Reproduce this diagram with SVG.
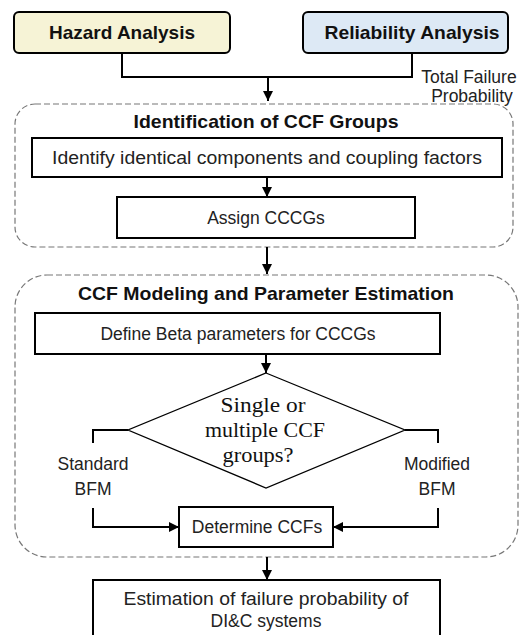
<svg xmlns="http://www.w3.org/2000/svg" width="526" height="635" viewBox="0 0 526 635">
<defs>
<marker id="ah" viewBox="0 0 10 10" refX="10" refY="5" markerWidth="10" markerHeight="10" markerUnits="userSpaceOnUse" orient="auto">
<path d="M0,0 L10,5 L0,10 Z" fill="#000"/>
</marker>
<style>
.box{fill:#fff;stroke:#000;stroke-width:2}
.grp{fill:none;stroke:#777;stroke-width:1.2;stroke-dasharray:6,3}
.t{font-family:"Liberation Sans",Arial,sans-serif;font-size:17.5px;fill:#222;text-anchor:middle}
.b{font-family:"Liberation Sans",Arial,sans-serif;font-size:19px;font-weight:bold;fill:#111;text-anchor:middle}
.s{font-family:"Liberation Serif","Times New Roman",serif;font-size:22px;fill:#111;text-anchor:middle}
.c{fill:none;stroke:#000;stroke-width:2}
.a{fill:none;stroke:#000;stroke-width:2;marker-end:url(#ah)}
.d{fill:#fff;stroke:#000;stroke-width:1.3}
</style>
</defs>
<g id="grp1"><rect class="grp" x="15" y="104" width="498" height="143" rx="20"/><text class="b" x="266" y="128" textLength="265" lengthAdjust="spacingAndGlyphs">Identification of CCF Groups</text></g>
<g id="grp2"><rect class="grp" x="15" y="275" width="503" height="282" rx="32"/><text class="b" x="266" y="300" textLength="376" lengthAdjust="spacingAndGlyphs">CCF Modeling and Parameter Estimation</text></g>
<g id="hazard"><rect x="14" y="12" width="216" height="41" rx="5" fill="#f6f3d6" stroke="#000" stroke-width="2"/><text class="b" x="122" y="39" textLength="146" lengthAdjust="spacingAndGlyphs">Hazard Analysis</text></g>
<g id="reliability"><rect x="303" y="12" width="205" height="41" rx="5" fill="#dde9f5" stroke="#000" stroke-width="2"/><text class="b" x="412" y="39" textLength="175" lengthAdjust="spacingAndGlyphs">Reliability Analysis</text></g>
<g id="tfp"><text class="t" x="469" y="83">Total Failure</text><text class="t" x="472" y="102">Probability</text></g>
<g id="identify"><rect class="box" x="32" y="138" width="470" height="39"/><text class="t" x="267" y="164" textLength="430" lengthAdjust="spacingAndGlyphs">Identify identical components and coupling factors</text></g>
<g id="assign"><rect class="box" x="117" y="197" width="298" height="41"/><text class="t" x="266" y="224">Assign CCCGs</text></g>
<g id="define"><rect class="box" x="35" y="313" width="405" height="41"/><text class="t" x="238" y="340">Define Beta parameters for CCCGs</text></g>
<g id="decision"><polygon class="d" points="266,373 405,430 266,488 128,430"/><text class="s" x="263" y="412" textLength="85" lengthAdjust="spacingAndGlyphs">Single or</text><text class="s" x="265" y="437" textLength="120" lengthAdjust="spacingAndGlyphs">multiple CCF</text><text class="s" x="258" y="462" textLength="71" lengthAdjust="spacingAndGlyphs">groups?</text></g>
<g id="standard"><rect x="24" y="448" width="138" height="60" fill="#fff"/><text class="t" x="93" y="470">Standard</text><text class="t" x="93" y="495">BFM</text></g>
<g id="modified"><rect x="369" y="448" width="138" height="60" fill="#fff"/><text class="t" x="437" y="470">Modified</text><text class="t" x="437" y="495">BFM</text></g>
<g id="determine"><rect class="box" x="179" y="507" width="154" height="40"/><text class="t" x="257" y="533">Determine CCFs</text></g>
<g id="estimation"><rect class="box" x="93" y="580" width="347" height="62"/><text class="t" x="266" y="605" textLength="285" lengthAdjust="spacingAndGlyphs">Estimation of failure probability of</text><text class="t" x="266" y="627">DI&amp;C systems</text></g>
<g id="connectors">
<polyline class="c" points="122,53 122,77 412,77 412,53"/>
<line class="a" x1="268" y1="77" x2="268" y2="101"/>
<line class="a" x1="267" y1="177" x2="267" y2="197"/>
<line class="a" x1="267" y1="247" x2="267" y2="274"/>
<line class="a" x1="266" y1="354" x2="266" y2="373"/>
<polyline class="c" points="128,430 93,430 93,443"/>
<polyline class="a" points="93,508 93,527 179,527"/>
<polyline class="c" points="405,430 438,430 438,443"/>
<polyline class="a" points="438,508 438,527 333,527"/>
<line class="a" x1="267" y1="557" x2="267" y2="580"/>
</g>
</svg>
